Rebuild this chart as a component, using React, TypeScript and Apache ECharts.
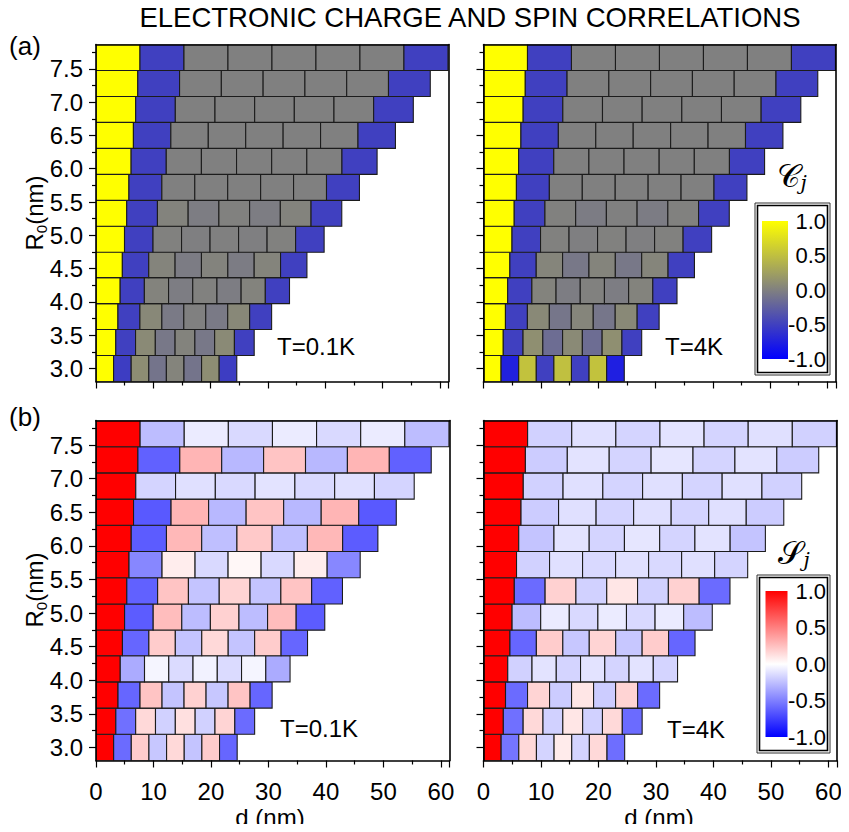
import React, { useEffect, useRef } from 'react';
import * as echarts from 'echarts';

// ---- data -------------------------------------------------------------
// ring radius of each row (nm), bottom to top
const R0 = [3.0, 3.39, 3.78, 4.17, 4.56, 4.94, 5.33, 5.72, 6.11, 6.5, 6.89, 7.28, 7.67];
// inter-electron distance step (nm) of each row; cell j spans [j*s, (j+1)*s]
const SPACING = [3.07, 3.45, 3.83, 4.22, 4.6, 4.975, 5.36, 5.745, 6.13, 6.53, 6.92, 7.29, 7.675];
// electron index j
const J_INDEX = [0, 1, 2, 3, 4, 5, 6, 7];

const Y_TICKS = [3.0, 3.5, 4.0, 4.5, 5.0, 5.5, 6.0, 6.5, 7.0, 7.5];
const Y_MINOR_TICKS = [3.25, 3.75, 4.25, 4.75, 5.25, 5.75, 6.25, 6.75, 7.25, 7.75];
const X_TICKS = [0, 10, 20, 30, 40, 50, 60];
const CBAR_TICKS = [1.0, 0.5, 0.0, -0.5, -1.0];

// charge correlation C_j, T = 0.1 K (rows bottom -> top, columns j = 0..7)
const CHARGE_T01 = [
  [1, -0.52, 0.1, -0.09, 0.03, -0.09, 0.1, -0.52],
  [1, -0.5, 0.08, -0.06, 0.02, -0.06, 0.08, -0.5],
  [1, -0.5, 0.06, -0.05, 0.0, -0.05, 0.06, -0.5],
  [1, -0.5, 0.02, -0.02, 0.01, -0.02, 0.02, -0.5],
  [1, -0.5, 0.03, -0.03, 0.02, -0.03, 0.03, -0.5],
  [1, -0.5, 0.01, -0.01, 0.0, -0.01, 0.01, -0.5],
  [1, -0.5, 0.02, -0.02, 0.01, -0.02, 0.02, -0.5],
  [1, -0.5, 0, 0, 0, 0, 0, -0.5],
  [1, -0.5, 0, 0, 0, 0, 0, -0.5],
  [1, -0.5, 0, 0, 0, 0, 0, -0.5],
  [1, -0.5, 0, 0, 0, 0, 0, -0.5],
  [1, -0.5, 0, 0, 0, 0, 0, -0.5],
  [1, -0.5, 0, 0, 0, 0, 0, -0.5],
];
// charge correlation C_j, T = 4 K
const CHARGE_T4 = [
  [1, -0.74, 0.52, -0.5, 0.5, -0.5, 0.52, -0.76],
  [1, -0.5, 0.12, -0.15, 0.08, -0.15, 0.12, -0.5],
  [1, -0.5, 0.07, -0.08, 0.04, -0.08, 0.07, -0.5],
  [1, -0.5, 0.02, -0.02, 0.01, -0.02, 0.02, -0.5],
  [1, -0.5, 0.04, -0.06, 0.03, -0.06, 0.04, -0.5],
  [1, -0.5, 0.01, -0.01, 0.01, -0.01, 0.01, -0.5],
  [1, -0.5, 0.01, -0.03, 0.0, -0.03, 0.01, -0.5],
  [1, -0.5, 0, 0, 0, 0, 0, -0.5],
  [1, -0.5, 0, 0, 0, 0, 0, -0.5],
  [1, -0.5, 0, 0, 0, 0, 0, -0.5],
  [1, -0.5, 0, 0, 0, 0, 0, -0.5],
  [1, -0.5, 0, 0, 0, 0, 0, -0.5],
  [1, -0.5, 0, 0, 0, 0, 0, -0.5],
];
// spin correlation S_j, T = 0.1 K
const SPIN_T01 = [
  [1, -0.58, 0.2, -0.22, 0.15, -0.23, 0.2, -0.6],
  [1, -0.56, 0.15, -0.18, 0.12, -0.18, 0.17, -0.58],
  [1, -0.6, 0.23, -0.23, 0.18, -0.22, 0.23, -0.6],
  [1, -0.33, -0.04, -0.14, -0.05, -0.14, -0.04, -0.33],
  [1, -0.6, 0.2, -0.23, 0.15, -0.23, 0.2, -0.6],
  [1, -0.64, 0.26, -0.26, 0.18, -0.26, 0.26, -0.64],
  [1, -0.62, 0.23, -0.23, 0.17, -0.23, 0.23, -0.62],
  [1, -0.47, 0.07, -0.15, 0.03, -0.15, 0.07, -0.47],
  [1, -0.64, 0.28, -0.25, 0.21, -0.25, 0.28, -0.64],
  [1, -0.65, 0.29, -0.28, 0.23, -0.28, 0.29, -0.65],
  [1, -0.17, -0.12, -0.15, -0.11, -0.15, -0.12, -0.17],
  [1, -0.62, 0.29, -0.28, 0.23, -0.28, 0.29, -0.62],
  [1, -0.26, -0.08, -0.15, -0.08, -0.15, -0.08, -0.26],
];
// spin correlation S_j, T = 4 K
const SPIN_T4 = [
  [1, -0.54, 0.15, -0.17, 0.08, -0.17, 0.15, -0.57],
  [1, -0.56, 0.15, -0.18, 0.1, -0.18, 0.15, -0.58],
  [1, -0.58, 0.17, -0.2, 0.1, -0.2, 0.17, -0.58],
  [1, -0.18, -0.11, -0.17, -0.11, -0.17, -0.11, -0.17],
  [1, -0.6, 0.2, -0.22, 0.17, -0.22, 0.2, -0.6],
  [1, -0.26, -0.08, -0.15, -0.08, -0.15, -0.08, -0.26],
  [1, -0.58, 0.18, -0.18, 0.1, -0.18, 0.18, -0.58],
  [1, -0.18, -0.12, -0.15, -0.12, -0.15, -0.12, -0.17],
  [1, -0.23, -0.11, -0.17, -0.1, -0.17, -0.11, -0.23],
  [1, -0.2, -0.12, -0.17, -0.12, -0.17, -0.12, -0.2],
  [1, -0.18, -0.12, -0.17, -0.12, -0.17, -0.12, -0.18],
  [1, -0.2, -0.11, -0.17, -0.1, -0.17, -0.11, -0.2],
  [1, -0.18, -0.12, -0.17, -0.11, -0.17, -0.12, -0.18],
];

// colour maps (value -> rgb)
const CHARGE_CMAP: [number, number[]][] = [
  [-1, [0, 0, 255]],
  [0, [128, 128, 128]],
  [1, [255, 255, 0]],
];
const SPIN_CMAP: [number, number[]][] = [
  [-1, [0, 0, 255]],
  [0, [255, 255, 255]],
  [1, [255, 0, 0]],
];

// ---- helpers ----------------------------------------------------------
const FONT = '"Liberation Sans", Arial, Helvetica, sans-serif';

function cmapColor(stops: [number, number[]][], v: number): string {
  const x = Math.max(stops[0][0], Math.min(stops[stops.length - 1][0], v));
  for (let i = 0; i < stops.length - 1; i++) {
    const [a, ca] = stops[i];
    const [b, cb] = stops[i + 1];
    if (x >= a && x <= b) {
      const t = (x - a) / (b - a);
      const c = ca.map((q, k) => Math.round(q + (cb[k] - q) * t));
      return `rgb(${c[0]},${c[1]},${c[2]})`;
    }
  }
  return '#000';
}

function cmapGradient(stops: [number, number[]][]) {
  return {
    type: 'linear',
    x: 0,
    y: 0,
    x2: 0,
    y2: 1,
    colorStops: stops
      .slice()
      .reverse()
      .map(([v, c]) => ({ offset: (1 - v) / 2, color: `rgb(${c[0]},${c[1]},${c[2]})` })),
  };
}

function buildCells(values: number[][]) {
  const out: number[][] = [];
  R0.forEach((r, i) => {
    J_INDEX.forEach((j) => {
      out.push([j * SPACING[i], (j + 1) * SPACING[i], r, values[i][j]]);
    });
  });
  return out;
}

const HALF_ROW = (R0[1] - R0[0]) / 2;
const Y_MIN = R0[0] - HALF_ROW;
const Y_MAX = R0[R0.length - 1] + HALF_ROW;
const X_MAX = 61.5;

export default function App() {
  const ref = useRef<HTMLDivElement>(null);

  useEffect(() => {
    if (!ref.current) return;
    const chart = echarts.init(ref.current, undefined, { renderer: 'svg' });

    const panels = [
      { grid: { left: 96, top: 44.5, width: 352.5, height: 337 }, values: CHARGE_T01, cmap: CHARGE_CMAP, xLabels: false, yLabels: true },
      { grid: { left: 483.5, top: 44.5, width: 352.5, height: 337 }, values: CHARGE_T4, cmap: CHARGE_CMAP, xLabels: false, yLabels: false },
      { grid: { left: 96, top: 420.5, width: 353.5, height: 340 }, values: SPIN_T01, cmap: SPIN_CMAP, xLabels: true, yLabels: true },
      { grid: { left: 483.5, top: 420.5, width: 353.5, height: 340 }, values: SPIN_T4, cmap: SPIN_CMAP, xLabels: true, yLabels: false },
    ];

    const lineStyle = { color: '#000', width: 1.6 };
    const tickStyle = { color: '#000', width: 1.2 };
    const labelStyle = { color: '#000', fontSize: 24, fontFamily: FONT };

    const grids: any[] = [];
    const xAxes: any[] = [];
    const yAxes: any[] = [];
    const series: any[] = [];

    panels.forEach((p, i) => {
      grids.push({ ...p.grid, show: false, containLabel: false });
      const xMain = xAxes.length;
      xAxes.push({
        gridIndex: i, type: 'value', min: 0, max: X_MAX, interval: 10, position: 'bottom', z: 10,
        axisLine: { show: true, lineStyle },
        axisTick: { show: true, inside: false, length: 7, lineStyle: tickStyle },
        minorTick: { show: true, splitNumber: 2, length: 4, lineStyle: tickStyle },
        splitLine: { show: false }, minorSplitLine: { show: false },
        axisLabel: { show: p.xLabels, margin: 20, customValues: X_TICKS, lineHeight: 22, ...labelStyle },
      });
      xAxes.push({
        gridIndex: i, type: 'value', min: 0, max: X_MAX, position: 'top', z: 10,
        axisLine: { show: true, lineStyle }, axisTick: { show: false }, axisLabel: { show: false }, splitLine: { show: false },
      });
      const yMain = yAxes.length;
      yAxes.push({
        gridIndex: i, type: 'value', min: Y_MIN, max: Y_MAX, position: 'left', z: 10,
        axisLine: { show: true, lineStyle },
        axisTick: { show: true, inside: false, length: 7, lineStyle: tickStyle, customValues: Y_TICKS },
        axisLabel: { show: p.yLabels, customValues: Y_TICKS, margin: 13, formatter: (v: number) => v.toFixed(1), ...labelStyle },
        splitLine: { show: false },
      });
      yAxes.push({
        gridIndex: i, type: 'value', min: Y_MIN, max: Y_MAX, position: 'left', z: 10,
        axisLine: { show: false },
        axisTick: { show: true, inside: false, length: 4, lineStyle: tickStyle, customValues: Y_MINOR_TICKS },
        axisLabel: { show: false }, splitLine: { show: false },
      });
      yAxes.push({
        gridIndex: i, type: 'value', min: Y_MIN, max: Y_MAX, position: 'right', z: 10,
        axisLine: { show: true, lineStyle }, axisTick: { show: false }, axisLabel: { show: false }, splitLine: { show: false },
      });
      const cmap = p.cmap;
      series.push({
        type: 'custom',
        xAxisIndex: xMain,
        yAxisIndex: yMain,
        clip: true,
        dimensions: ['d0', 'd1', 'R0', 'value'],
        encode: { x: [0, 1], y: 2 },
        data: buildCells(p.values),
        renderItem: (params: any, api: any) => {
          const x0 = api.value(0);
          const x1 = api.value(1);
          const y = api.value(2);
          const v = api.value(3);
          const a = api.coord([x0, y + HALF_ROW]);
          const b = api.coord([x1, y - HALF_ROW]);
          return {
            type: 'rect',
            shape: { x: a[0], y: a[1], width: b[0] - a[0], height: b[1] - a[1] },
            style: { fill: cmapColor(cmap, v), stroke: '#1c1c1c', lineWidth: 1.1 },
          };
        },
      });
    });

    const textStyle = (extra: any) => ({ fill: '#000', fontFamily: FONT, ...extra });

    const r0Label = (y: number) => ({
      type: 'text', x: 34, y, rotation: Math.PI / 2,
      style: {
        text: '{a|R}{b|0}{a|(nm)}', align: 'center', verticalAlign: 'middle',
        rich: {
          a: { fontSize: 24, fontFamily: FONT, fill: '#000', lineHeight: 30 },
          b: { fontSize: 15, fontFamily: FONT, fill: '#000', lineHeight: 30, verticalAlign: 'bottom', padding: [11, 0, 0, 0] },
        },
      },
      z: 20,
    });

    const colorbar = (box: number[], bar: number[], stops: [number, number[]][]) => {
      const [bx, by, bw, bh] = box;
      const [gx, gy, gw, gh] = bar;
      const els: any[] = [
        { type: 'rect', shape: { x: bx, y: by, width: bw, height: bh }, style: { fill: '#fff', stroke: '#333', lineWidth: 1 }, z: 20 },
        { type: 'rect', shape: { x: bx + 2.5, y: by + 2.5, width: bw - 5, height: bh - 5 }, style: { fill: '#fff', stroke: '#000', lineWidth: 1.6 }, z: 20 },
        { type: 'rect', shape: { x: gx, y: gy, width: gw, height: gh }, style: { fill: cmapGradient(stops) }, z: 21 },
      ];
      CBAR_TICKS.forEach((t) => {
        els.push({
          type: 'text', x: bx + bw - 4, y: gy + ((1 - t) / 2) * gh, z: 22,
          style: textStyle({ text: t.toFixed(1), fontSize: 22, align: 'right', verticalAlign: 'middle' }),
        });
      });
      return els;
    };

    const scriptLabel = (x: number, y: number, letter: string) => ({
      type: 'text', x, y, z: 20,
      style: {
        text: `{c|${letter}}{j|j}`, align: 'center', verticalAlign: 'middle',
        rich: {
          c: { fontSize: 32, fontFamily: '"DejaVu Serif", serif', fill: '#000', fontWeight: 'normal' },
          j: { fontSize: 20, fontFamily: '"DejaVu Serif", serif', fontStyle: 'italic', fill: '#000', padding: [14, 0, 0, 0] },
        },
      },
    });

    const graphic: any[] = [
      { type: 'text', x: 470, y: 17, z: 20, style: textStyle({ text: 'ELECTRONIC CHARGE AND SPIN CORRELATIONS', fontSize: 27.5, align: 'center', verticalAlign: 'middle' }) },
      { type: 'text', x: 25, y: 46, z: 20, style: textStyle({ text: '(a)', fontSize: 26, align: 'center', verticalAlign: 'middle' }) },
      { type: 'text', x: 25, y: 417, z: 20, style: textStyle({ text: '(b)', fontSize: 26, align: 'center', verticalAlign: 'middle' }) },
      r0Label(213),
      r0Label(590),
      { type: 'text', x: 277, y: 346, z: 20, style: textStyle({ text: 'T=0.1K', fontSize: 24, align: 'left', verticalAlign: 'middle' }) },
      { type: 'text', x: 665, y: 346, z: 20, style: textStyle({ text: 'T=4K', fontSize: 24, align: 'left', verticalAlign: 'middle' }) },
      { type: 'text', x: 280, y: 728, z: 20, style: textStyle({ text: 'T=0.1K', fontSize: 24, align: 'left', verticalAlign: 'middle' }) },
      { type: 'text', x: 667, y: 729, z: 20, style: textStyle({ text: 'T=4K', fontSize: 24, align: 'left', verticalAlign: 'middle' }) },
      { type: 'text', x: 270, y: 817, z: 20, style: textStyle({ text: 'd (nm)', fontSize: 24, lineHeight: 24, align: 'center', verticalAlign: 'middle' }) },
      { type: 'text', x: 659, y: 817, z: 20, style: textStyle({ text: 'd (nm)', fontSize: 24, lineHeight: 24, align: 'center', verticalAlign: 'middle' }) },
      scriptLabel(792, 176, '𝒞'),
      scriptLabel(794, 553, '𝒮'),
      ...colorbar([755, 203, 75, 172], [762, 221, 26, 138], CHARGE_CMAP),
      ...colorbar([757, 575, 73, 178], [765.5, 591, 22, 146], SPIN_CMAP),
    ];

    chart.setOption({
      animation: false,
      backgroundColor: '#fff',
      grid: grids,
      xAxis: xAxes,
      yAxis: yAxes,
      series,
      graphic,
    });

    return () => chart.dispose();
  }, []);

  return <div ref={ref} style={{ width: 849, height: 832, margin: -8 }} />;
}
